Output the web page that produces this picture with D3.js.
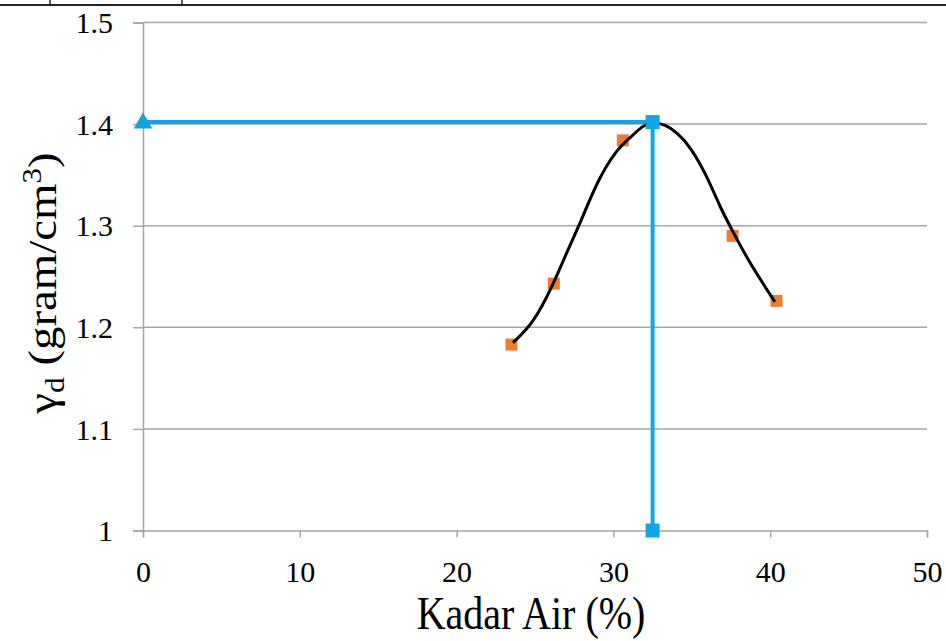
<!DOCTYPE html>
<html>
<head>
<meta charset="utf-8">
<script src="https://cdn.jsdelivr.net/npm/d3@7"></script>
</head>
<body style="margin:0">
<svg id="chart" width="946" height="641"></svg>
<script>
// Measured water content (%) and dry density (gram/cm3)
const kadarAir = [23.5, 26.2, 30.6, 37.6, 40.4];
const gammaD   = [1.183, 1.243, 1.384, 1.290, 1.226];

// Fitted compaction curve, sampled along its length
const curveX = [23.6, 24.9, 26.1, 27.0, 27.9, 29.0, 30.2, 31.1, 31.9, 32.5, 33.3, 34.1, 34.9, 36.0, 36.8, 37.8, 38.7, 40.3];
const curveY = [1.185, 1.204, 1.240, 1.273, 1.303, 1.345, 1.375, 1.387, 1.399, 1.402, 1.400, 1.391, 1.378, 1.348, 1.318, 1.289, 1.263, 1.225];

// Optimum water content and maximum dry density
const optimumX = [0, 32.5, 32.5];
const optimumY = [1.402, 1.402, 1.0];

const xTicks = [0, 10, 20, 30, 40, 50];
const yTicks = [1, 1.1, 1.2, 1.3, 1.4, 1.5];

const fontFamily = '"Liberation Serif"';
const svg = d3.select("#chart");
const plotL = 143, plotR = 927, plotT = 22.5, plotB = 530.5;

const x = d3.scaleLinear().domain([0, 50]).range([plotL, plotR]);
const y = d3.scaleLinear().domain([1, 1.5]).range([plotB, plotT]);

// Page border remnant at the top
svg.append("line").attr("x1", 0).attr("x2", 946).attr("y1", 5).attr("y2", 5)
  .attr("stroke", "#222").attr("stroke-width", 2);
[50, 182].forEach(px => svg.append("line").attr("x1", px).attr("x2", px)
  .attr("y1", 0).attr("y2", 5).attr("stroke", "#222").attr("stroke-width", 1.5));

// Horizontal gridlines
svg.append("g").selectAll("line").data(yTicks.filter(v => v > 1)).join("line")
  .attr("x1", plotL).attr("x2", plotR)
  .attr("y1", d => y(d)).attr("y2", d => y(d))
  .attr("stroke", "#a6a6a6").attr("stroke-width", 1.5);

// Y axis
const yAxis = svg.append("g").attr("transform", `translate(${plotL},0)`)
  .call(d3.axisLeft(y).tickValues(yTicks).tickSize(10).tickPadding(20)
    .tickFormat(d => d3.format("~g")(d)));
yAxis.select(".domain").attr("stroke", "#a6a6a6").attr("stroke-width", 1.5);
yAxis.selectAll(".tick line").attr("stroke", "#a6a6a6").attr("stroke-width", 1.5);
yAxis.selectAll(".tick text").attr("fill", "#000").attr("dy", "0.34em")
  .style("font-family", fontFamily).style("font-size", "30px");

// X axis
const xAxis = svg.append("g").attr("transform", `translate(0,${plotB})`)
  .call(d3.axisBottom(x).tickValues(xTicks).tickSize(7).tickPadding(23));
xAxis.select(".domain").attr("stroke", "#a6a6a6").attr("stroke-width", 1.5);
xAxis.selectAll(".tick line").attr("stroke", "#a6a6a6").attr("stroke-width", 1.5);
xAxis.selectAll(".tick text").attr("fill", "#000")
  .style("font-family", fontFamily).style("font-size", "30px");

// Optimum guide lines
const blue = "#12a5e3";
const guide = d3.line().x((d, i) => x(optimumX[i])).y((d, i) => y(optimumY[i]));
svg.append("path").datum(optimumX).attr("d", guide)
  .attr("fill", "none").attr("stroke", blue).attr("stroke-width", 4);

// Measured points
svg.append("g").selectAll("rect").data(kadarAir).join("rect")
  .attr("x", (d, i) => x(d) - 6).attr("y", (d, i) => y(gammaD[i]) - 6)
  .attr("width", 12).attr("height", 12).attr("fill", "#ed7d31");

// Compaction curve
const curve = d3.line().curve(d3.curveBasis)
  .x((d, i) => x(curveX[i])).y((d, i) => y(curveY[i]));
svg.append("path").datum(curveX).attr("d", curve)
  .attr("fill", "none").attr("stroke", "#000").attr("stroke-width", 3);

// Guide markers: triangle on the density axis, squares at the optimum
svg.append("path")
  .attr("d", d3.symbol(d3.symbolTriangle, 150)())
  .attr("transform", `translate(${x(optimumX[0])},${y(optimumY[0]) + 1})`)
  .attr("fill", blue);
[1, 2].forEach(i => svg.append("rect")
  .attr("x", x(optimumX[i]) - 7).attr("y", y(optimumY[i]) - 7)
  .attr("width", 14).attr("height", 14).attr("fill", blue));

// Axis titles (drawn slightly taller than wide)
svg.append("text")
  .attr("transform", `translate(531,629) scale(1,1.15)`)
  .attr("text-anchor", "middle").attr("fill", "#000")
  .style("font-family", fontFamily).style("font-size", "40px")
  .text("Kadar Air (%)");

const yt = svg.append("text")
  .attr("transform", `translate(56,283) scale(1,1.17) rotate(-90)`)
  .attr("text-anchor", "middle").attr("fill", "#000")
  .style("font-family", fontFamily).style("font-size", "40px");
yt.append("tspan").text("γ");
yt.append("tspan").attr("dy", 8).style("font-size", "27px").text("d");
yt.append("tspan").attr("dy", -8).text(" (gram/cm");
yt.append("tspan").attr("dy", -15).style("font-size", "27px").text("3");
yt.append("tspan").attr("dy", 15).text(")");
</script>
</body>
</html>
